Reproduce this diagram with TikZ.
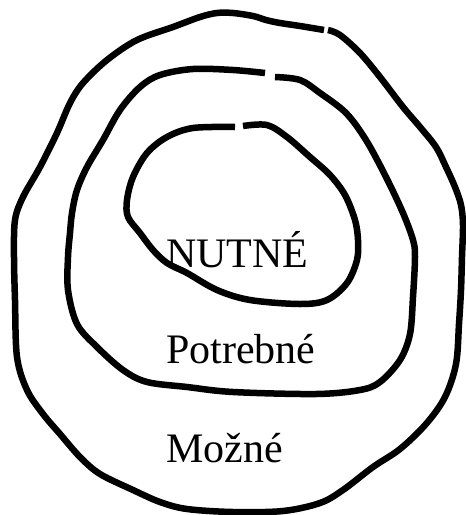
\documentclass[tikz,border=0pt]{standalone}
\usepackage{fontspec}
\setmainfont{Liberation Serif}
\begin{document}
\begin{tikzpicture}[x=1pt,y=-1pt,
  ring/.style={line width=6.5pt,line join=round,line cap=butt},
  lbl/.style={anchor=base west,inner sep=0pt,font=\fontsize{42}{42}\selectfont}]
\useasboundingbox (0,0) rectangle (466,515);
% outer ring
\draw[ring] plot[smooth,tension=0.55] coordinates {(328,30) (340,35) (360,53) (380,77) (403,107) (420,127) (436,147) (446,167) (455,187) (461,205) (463,225) (462,257) (461,290) (459,324) (456,364) (445,397) (426,424) (400,449) (373,467) (343,490) (320,503) (283,511) (233,512) (187,509) (160,502) (133,490) (100,474) (80,457) (60,434) (43,414) (27,390) (17,357) (15,300) (14,257) (15,220) (23,197) (40,167) (57,133) (70,103) (83,83) (107,60) (137,40) (173,27) (200,17) (217,13) (233,13) (253,16) (266,20) (280,23) (300,26) (324,30)};
% middle ring
\draw[ring] plot[smooth,tension=0.55] coordinates {(275,77) (300,80) (320,93) (346,113) (366,140) (386,177) (403,213) (413,240) (415,257) (413,297) (410,334) (400,360) (380,382) (360,390) (316,394) (233,392) (187,387) (147,382) (123,370) (97,347) (77,324) (68,290) (68,257) (70,233) (72,213) (77,190) (87,167) (103,140) (120,110) (140,87) (160,75) (193,69) (233,70) (265,73)};
% inner ring
\draw[ring] plot[smooth,tension=0.55] coordinates {(243,126) (267,125) (287,137) (310,157) (330,175) (345,195) (355,220) (358,240) (357,260) (347,283) (327,300) (300,304) (250,300) (217,290) (187,273) (167,263) (153,250) (140,233) (128,217) (127,200) (133,177) (147,153) (167,137) (193,128) (235,127)};
\node[lbl] (nutne) at (166,267) {NUTNÉ};
\node[lbl] (potrebne) at (166,363) {Potrebné};
\node[lbl] (mozne) at (166,462) {Možné};
\end{tikzpicture}
\end{document}
